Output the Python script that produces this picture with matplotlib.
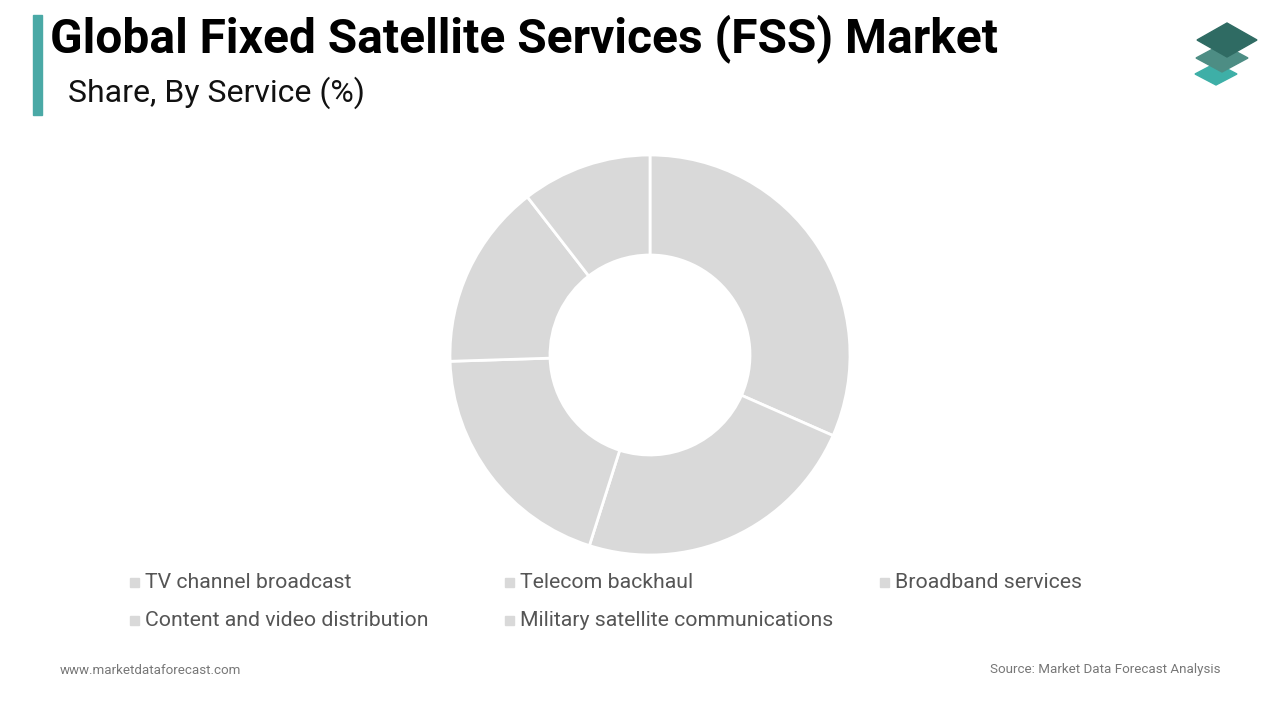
import matplotlib.pyplot as plt
from matplotlib.patches import Polygon, Rectangle

plt.rcParams['font.family'] = ['Roboto', 'DejaVu Sans']

services = ['TV channel broadcast', 'Telecom backhaul', 'Broadband services',
            'Content and video distribution', 'Military satellite communications']
shares = [31.6, 23.3, 19.6, 15.0, 10.5]
slice_color = '#d9d9d9'

W, H = 1280, 720
fig = plt.figure(figsize=(W / 100, H / 100), dpi=100)


def fx(px):
    return px / W


def fy(py):
    return 1 - py / H


# header
fig.patches.append(Rectangle((fx(33), fy(115)), fx(9), 100 / H, color='#4aa9a6',
                             transform=fig.transFigure))
fig.text(fx(50), fy(39), 'Global Fixed Satellite Services (FSS) Market', fontsize=34.5,
         fontweight='bold', color='#000000', va='center', ha='left')
fig.text(fx(68), fy(93), 'Share, By Service (%)', fontsize=23, color='#111111',
         va='center', ha='left')

# logo
logo = [((1227, 40), 30, 17, '#2f6b63'),
        ((1222, 58), 26, 14, '#4d8d84'),
        ((1216, 74), 21, 11, '#3eafa7')]
for (cx, cy), hw, hh, c in reversed(logo):
    pts = [(fx(cx), fy(cy - hh)), (fx(cx + hw), fy(cy)),
           (fx(cx), fy(cy + hh)), (fx(cx - hw), fy(cy))]
    fig.patches.append(Polygon(pts, closed=True, color=c, transform=fig.transFigure))

# donut
ax = fig.add_axes([fx(450), fy(555), 400 / W, 400 / H])
ax.pie(shares, colors=[slice_color] * len(shares), startangle=90, counterclock=False,
       radius=1, wedgeprops=dict(width=0.5, edgecolor='white', linewidth=2))
ax.set_xlim(-1, 1)
ax.set_ylim(-1, 1)
ax.set_aspect('equal')
ax.axis('off')

# legend
col_x = [130, 505, 880]
row_y = [582, 620]
for i, name in enumerate(services):
    x = col_x[i % 3]
    y = row_y[i // 3]
    fig.patches.append(Rectangle((fx(x), fy(y + 5)), fx(9), 9 / H, color=slice_color,
                                 transform=fig.transFigure))
    fig.text(fx(x + 15), fy(y), name, fontsize=15.3, color='#555555', va='center', ha='left')

# footer
fig.text(fx(60), fy(670), 'www.marketdataforecast.com', fontsize=9.6, color='#777777',
         va='center', ha='left')
fig.text(fx(1220), fy(670), 'Source: Market Data Forecast Analysis', fontsize=9.6,
         color='#777777', va='center', ha='right')

fig.savefig('out.png', dpi=100)
